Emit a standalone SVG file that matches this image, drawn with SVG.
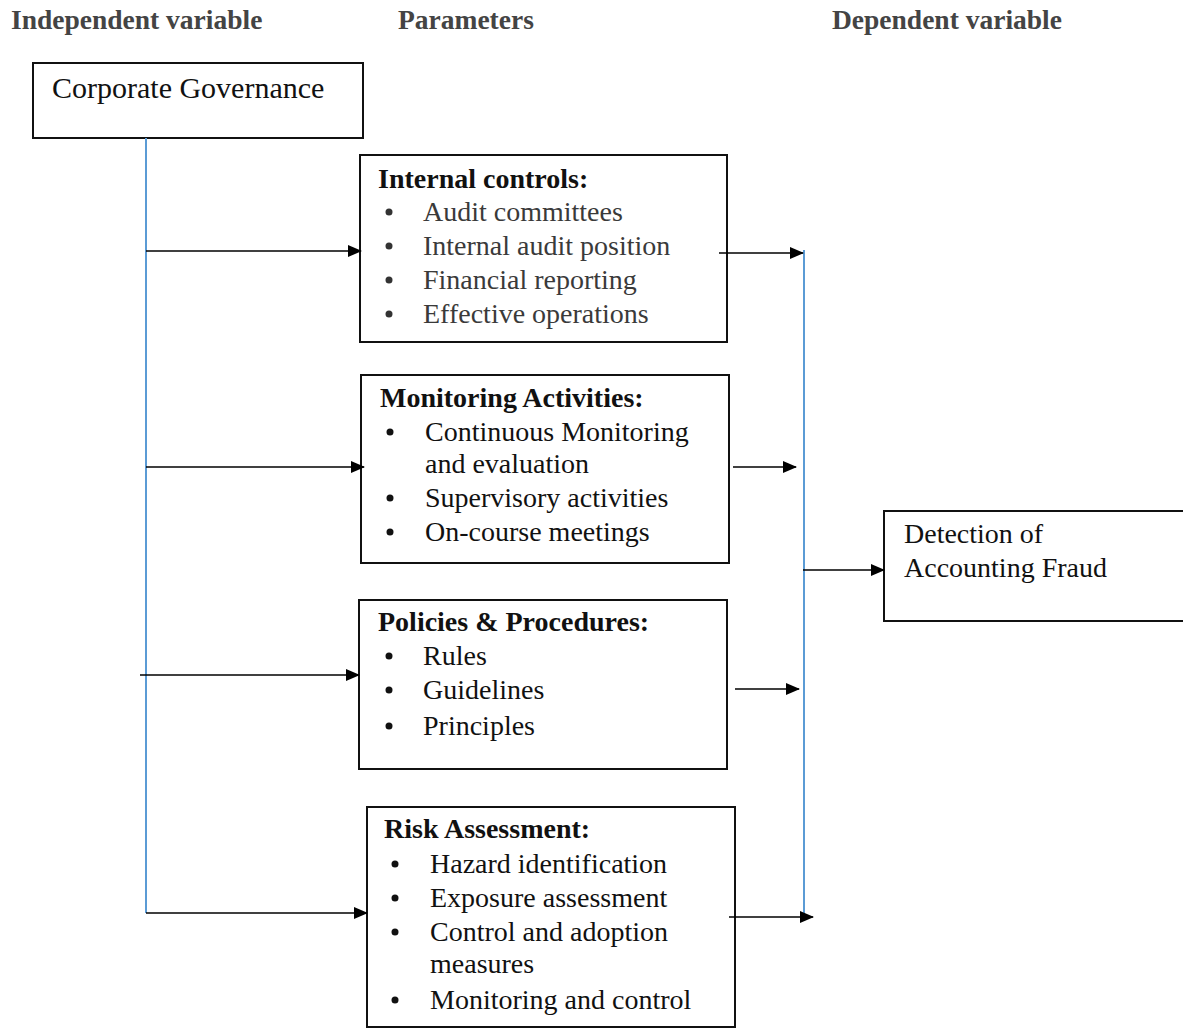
<svg xmlns="http://www.w3.org/2000/svg" width="1183" height="1028" viewBox="0 0 1183 1028">
<style>
text{font-family:"Liberation Serif","Times New Roman",serif;font-size:28px;fill:#111}
.h{font-weight:bold;fill:#444;font-size:27.5px}
.t{font-weight:bold}
.g{fill:#3a3a3a}
.box{fill:#fff;stroke:#111;stroke-width:2}
.blue{stroke:#5b9bd5;stroke-width:2;fill:none}
.arr{stroke:#000;stroke-width:1.6;fill:none;marker-end:url(#ah)}
</style>
<defs>
<marker id="ah" markerUnits="userSpaceOnUse" markerWidth="14" markerHeight="12" refX="13" refY="6" orient="auto">
<path d="M0,0 L14,6 L0,12 z" fill="#000"/>
</marker>
</defs>
<g id="headers">
<text class="h" x="11" y="29">Independent variable</text>
<text class="h" x="398" y="29">Parameters</text>
<text class="h" x="832" y="29">Dependent variable</text>
</g>
<g id="corporate-governance">
<rect class="box" x="33" y="63" width="330" height="75"/>
<text x="52" y="98" style="font-size:30px">Corporate Governance</text>
</g>
<g id="internal-controls">
<rect class="box" x="360" y="155" width="367" height="187"/>
<text class="t" x="378" y="188">Internal controls:</text>
<g fill="#333"><circle cx="389" cy="212" r="3.5"/><circle cx="389" cy="246" r="3.5"/><circle cx="389" cy="280" r="3.5"/><circle cx="389" cy="314" r="3.5"/></g>
<text class="g" x="423" y="221">Audit committees</text>
<text class="g" x="423" y="255">Internal audit position</text>
<text class="g" x="423" y="289">Financial reporting</text>
<text class="g" x="423" y="323">Effective operations</text>
</g>
<g id="monitoring-activities">
<rect class="box" x="361" y="375" width="368" height="188"/>
<text class="t" x="380" y="407">Monitoring Activities:</text>
<g fill="#111"><circle cx="390" cy="432" r="3.5"/><circle cx="390" cy="498" r="3.5"/><circle cx="390" cy="532" r="3.5"/></g>
<text x="425" y="441">Continuous Monitoring</text>
<text x="425" y="473">and evaluation</text>
<text x="425" y="507">Supervisory activities</text>
<text x="425" y="541">On-course meetings</text>
</g>
<g id="policies-procedures">
<rect class="box" x="359" y="600" width="368" height="169"/>
<text class="t" x="378" y="631">Policies &amp; Procedures:</text>
<g fill="#111"><circle cx="389" cy="656" r="3.5"/><circle cx="389" cy="690" r="3.5"/><circle cx="389" cy="726" r="3.5"/></g>
<text x="423" y="665">Rules</text>
<text x="423" y="699">Guidelines</text>
<text x="423" y="735">Principles</text>
</g>
<g id="risk-assessment">
<rect class="box" x="367" y="807" width="368" height="220"/>
<text class="t" x="384" y="838">Risk Assessment:</text>
<g fill="#111"><circle cx="395" cy="864" r="3.5"/><circle cx="395" cy="898" r="3.5"/><circle cx="395" cy="932" r="3.5"/><circle cx="395" cy="1000" r="3.5"/></g>
<text x="430" y="873">Hazard identification</text>
<text x="430" y="907">Exposure assessment</text>
<text x="430" y="941">Control and adoption</text>
<text x="430" y="973">measures</text>
<text x="430" y="1009">Monitoring and control</text>
</g>
<g id="detection-fraud">
<rect class="box" x="884" y="511" width="310" height="110"/>
<text x="904" y="543">Detection of</text>
<text x="904" y="577">Accounting Fraud</text>
</g>
<g id="connectors">
<line class="blue" x1="146" y1="138" x2="146" y2="913"/>
<line class="blue" x1="804" y1="250" x2="804" y2="918"/>
<line class="arr" x1="146" y1="251" x2="361" y2="251"/>
<line class="arr" x1="146" y1="467" x2="364" y2="467"/>
<line class="arr" x1="140" y1="675" x2="359" y2="675"/>
<line class="arr" x1="146" y1="913" x2="367" y2="913"/>
<line class="arr" x1="719" y1="253" x2="803" y2="253"/>
<line class="arr" x1="733" y1="467" x2="796" y2="467"/>
<line class="arr" x1="735" y1="689" x2="799" y2="689"/>
<line class="arr" x1="729" y1="917" x2="813" y2="917"/>
<line class="arr" x1="803" y1="570" x2="884" y2="570"/>
</g>
</svg>
